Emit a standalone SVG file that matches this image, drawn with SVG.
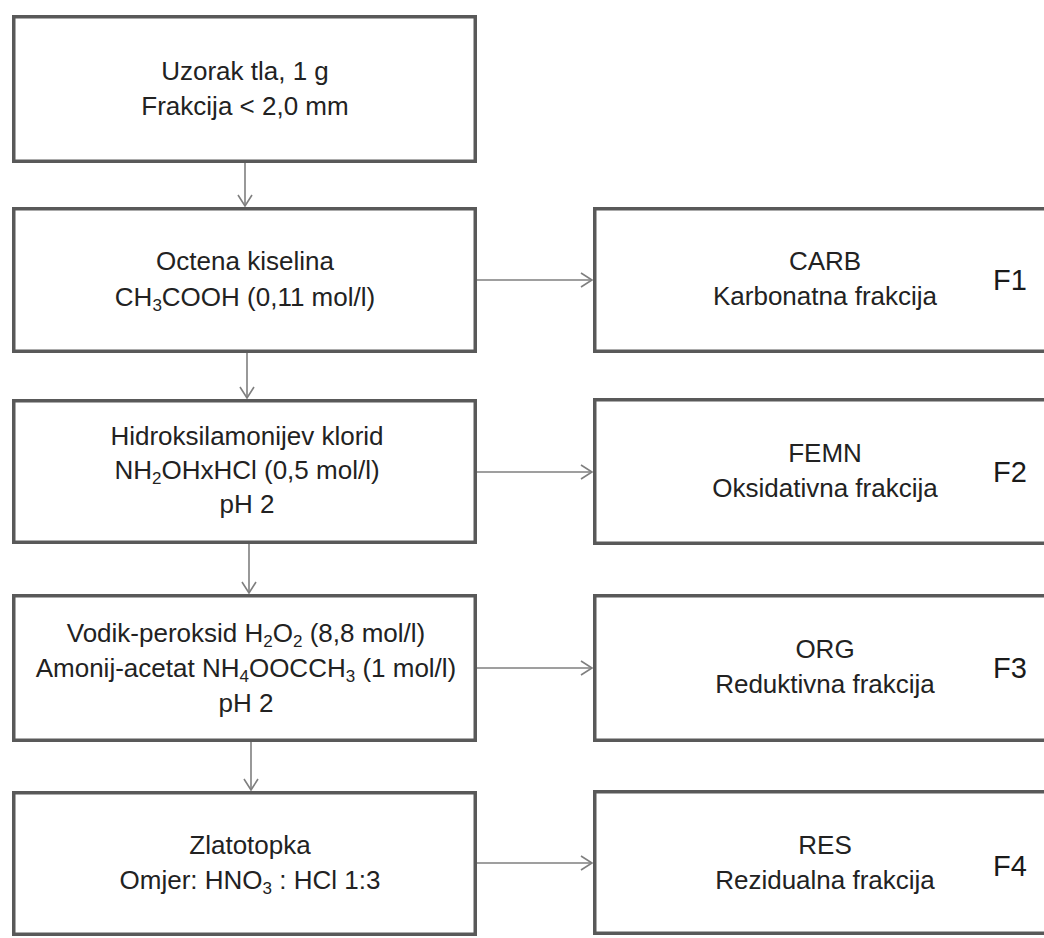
<svg xmlns="http://www.w3.org/2000/svg" width="1044" height="938" viewBox="0 0 1044 938">
<style>
.box{fill:#fff;stroke:#595959;stroke-width:3.5}
.t{font-family:"Liberation Sans",Arial,sans-serif;font-size:26px;fill:#222;text-anchor:middle}
.f{font-family:"Liberation Sans",Arial,sans-serif;font-size:29px;fill:#1a1a1a}
.c{stroke:#7f7f7f;stroke-width:1.6;fill:none}
.s{font-size:17px}
</style>
<defs>
<marker id="arr" viewBox="-14 -9 16 18" markerWidth="16" markerHeight="18" refX="0" refY="0" orient="auto" markerUnits="userSpaceOnUse">
<path d="M-11,-7 L0,0 L-11,7" fill="none" stroke="#7f7f7f" stroke-width="1.6"/>
</marker>
</defs>
<rect width="1044" height="938" fill="#fff"/>
<g id="connectors">
<line class="c" x1="245" y1="163" x2="245" y2="206" marker-end="url(#arr)"/>
<line class="c" x1="247" y1="353" x2="247" y2="398" marker-end="url(#arr)"/>
<line class="c" x1="249" y1="544" x2="249" y2="593" marker-end="url(#arr)"/>
<line class="c" x1="251" y1="742" x2="251" y2="790" marker-end="url(#arr)"/>
<line class="c" x1="477" y1="280" x2="592" y2="280" marker-end="url(#arr)"/>
<line class="c" x1="477" y1="472" x2="592" y2="472" marker-end="url(#arr)"/>
<line class="c" x1="477" y1="668" x2="592" y2="668" marker-end="url(#arr)"/>
<line class="c" x1="477" y1="863" x2="592" y2="863" marker-end="url(#arr)"/>
</g>
<g id="n1">
<rect class="box" x="13.75" y="16.75" width="461.5" height="144.5"/>
<text class="t" x="245" y="80">Uzorak tla, 1 g</text>
<text class="t" x="245" y="115">Frakcija &lt; 2,0 mm</text>
</g>
<g id="n2">
<rect class="box" x="13.75" y="208.75" width="461.5" height="142.5"/>
<text class="t" x="245" y="270">Octena kiselina</text>
<text class="t" x="245" y="306">CH<tspan class="s" dy="5">3</tspan><tspan dy="-5">COOH (0,11 mol/l)</tspan></text>
</g>
<g id="n3">
<rect class="box" x="13.75" y="400.75" width="461.5" height="141.5"/>
<text class="t" x="247" y="445">Hidroksilamonijev klorid</text>
<text class="t" x="247" y="479">NH<tspan class="s" dy="5">2</tspan><tspan dy="-5">OHxHCl (0,5 mol/l)</tspan></text>
<text class="t" x="247" y="513">pH 2</text>
</g>
<g id="n4">
<rect class="box" x="13.75" y="595.75" width="461.5" height="144.5"/>
<text class="t" x="246" y="642">Vodik-peroksid H<tspan class="s" dy="5">2</tspan><tspan dy="-5">O</tspan><tspan class="s" dy="5">2</tspan><tspan dy="-5"> (8,8 mol/l)</tspan></text>
<text class="t" x="246" y="677">Amonij-acetat NH<tspan class="s" dy="5">4</tspan><tspan dy="-5">OOCCH</tspan><tspan class="s" dy="5">3</tspan><tspan dy="-5"> (1 mol/l)</tspan></text>
<text class="t" x="246" y="712">pH 2</text>
</g>
<g id="n5">
<rect class="box" x="13.75" y="792.75" width="461.5" height="141.5"/>
<text class="t" x="250" y="854">Zlatotopka</text>
<text class="t" x="250" y="889">Omjer: HNO<tspan class="s" dy="5">3</tspan><tspan dy="-5"> : HCl 1:3</tspan></text>
</g>
<g id="r1">
<rect class="box" x="594.75" y="208.75" width="470" height="142.5"/>
<text class="t" x="825" y="270">CARB</text>
<text class="t" x="825" y="305">Karbonatna frakcija</text>
<text class="f" x="993" y="290">F1</text>
</g>
<g id="r2">
<rect class="box" x="594.75" y="399.75" width="470" height="143.5"/>
<text class="t" x="825" y="462">FEMN</text>
<text class="t" x="825" y="497">Oksidativna frakcija</text>
<text class="f" x="993" y="482">F2</text>
</g>
<g id="r3">
<rect class="box" x="594.75" y="595.75" width="470" height="144.5"/>
<text class="t" x="825" y="658">ORG</text>
<text class="t" x="825" y="693">Reduktivna frakcija</text>
<text class="f" x="993" y="678">F3</text>
</g>
<g id="r4">
<rect class="box" x="594.75" y="791.75" width="470" height="141.5"/>
<text class="t" x="825" y="854">RES</text>
<text class="t" x="825" y="889">Rezidualna frakcija</text>
<text class="f" x="993" y="876">F4</text>
</g>
</svg>
